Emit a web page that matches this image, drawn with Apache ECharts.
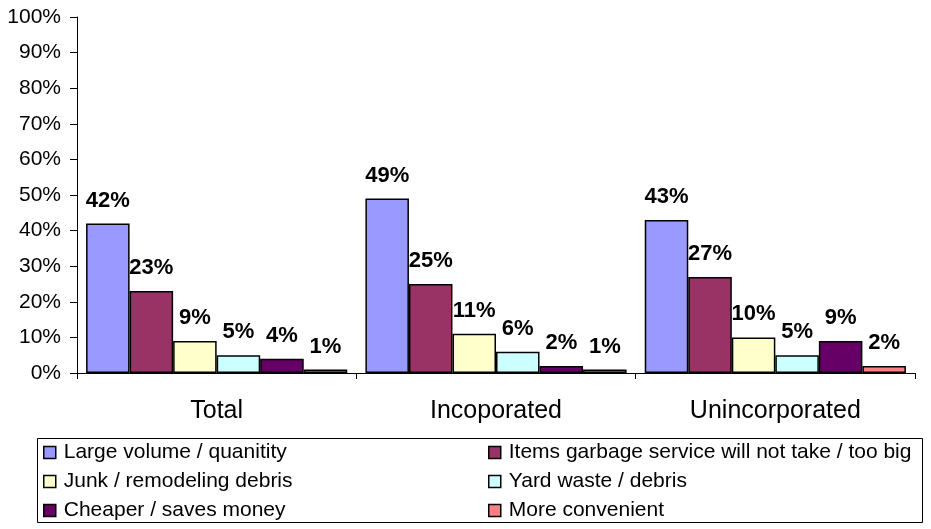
<!DOCTYPE html>
<html>
<head>
<meta charset="utf-8">
<script src="https://cdn.jsdelivr.net/npm/echarts@6/dist/echarts.min.js"></script>
<style>html,body{margin:0;padding:0;background:#fff;}#c{width:931px;height:529px;}</style>
</head>
<body>
<div id="c"></div>
<script>
var categories = ['Total', 'Incoporated', 'Unincorporated'];
var seriesNames = ['Large volume / quanitity', 'Items garbage service will not take / too big', 'Junk / remodeling debris', 'Yard waste / debris', 'Cheaper / saves money', 'More convenient'];
var largeVolume = [42, 49, 43];
var itemsNotTaken = [23, 25, 27];
var junkDebris = [9, 11, 10];
var yardWaste = [5, 6, 5];
var cheaper = [4, 2, 9];
var moreConvenient = [1, 1, 2];
var yTicks = { min: 0, max: 100, interval: 10 };

var colors = ['#9999FF', '#993366', '#FFFFCC', '#CCFFFF', '#660066', '#FF8080'];
var values = [largeVolume, itemsNotTaken, junkDebris, yardWaste, cheaper, moreConvenient];
var font = 'Arial, "Liberation Sans", sans-serif';

var series = values.map(function (v, i) {
  return {
    name: seriesNames[i],
    type: 'bar',
    data: v,
    barGap: '0%',
    barCategoryGap: '6.5%',
    itemStyle: { color: colors[i], borderColor: '#000', borderWidth: 1.5 },
    label: {
      show: true, position: 'top', distance: 12,
      formatter: '{c}%', color: '#000', fontFamily: font,
      fontSize: 22, fontWeight: 'bold'
    }
  };
});

var legendCommon = {
  orient: 'vertical', icon: 'rect', itemWidth: 12, itemHeight: 12, itemGap: 8,
  top: 442,
  textStyle: { fontFamily: font, fontSize: 21, color: '#000', lineHeight: 20, padding: [0, 0, 0, 3] },
  itemStyle: { borderColor: '#000', borderWidth: 1.5 },
  selectedMode: false, padding: 0
};

var chart = echarts.init(document.getElementById('c'), null, { renderer: 'canvas' });
chart.setOption({
  animation: false,
  backgroundColor: '#fff',
  color: colors,
  grid: { left: 77, right: 16, top: 17, bottom: 156, containLabel: false },
  xAxis: {
    type: 'category', data: categories,
    axisLine: { lineStyle: { color: '#000', width: 1 } },
    axisTick: { show: true, length: 6, lineStyle: { color: '#000' } },
    axisLabel: { color: '#000', fontFamily: font, fontSize: 25, margin: 26 }
  },
  yAxis: {
    type: 'value', min: yTicks.min, max: yTicks.max, interval: yTicks.interval,
    axisLine: { show: true, lineStyle: { color: '#000', width: 1 } },
    axisTick: { show: true, length: 7, lineStyle: { color: '#000' } },
    splitLine: { show: false },
    axisLabel: { color: '#000', fontFamily: font, fontSize: 21, margin: 16, formatter: '{value}%' }
  },
  legend: [
    Object.assign({}, legendCommon, { left: 43, data: [seriesNames[0], seriesNames[2], seriesNames[4]] }),
    Object.assign({}, legendCommon, { left: 488, data: [seriesNames[1], seriesNames[3], seriesNames[5]] })
  ],
  graphic: [{
    type: 'rect', silent: true,
    shape: { x: 37.5, y: 438.5, width: 885, height: 84 },
    style: { fill: 'none', stroke: '#000', lineWidth: 1 },
    z: -1
  }],
  series: series
});
</script>
</body>
</html>
